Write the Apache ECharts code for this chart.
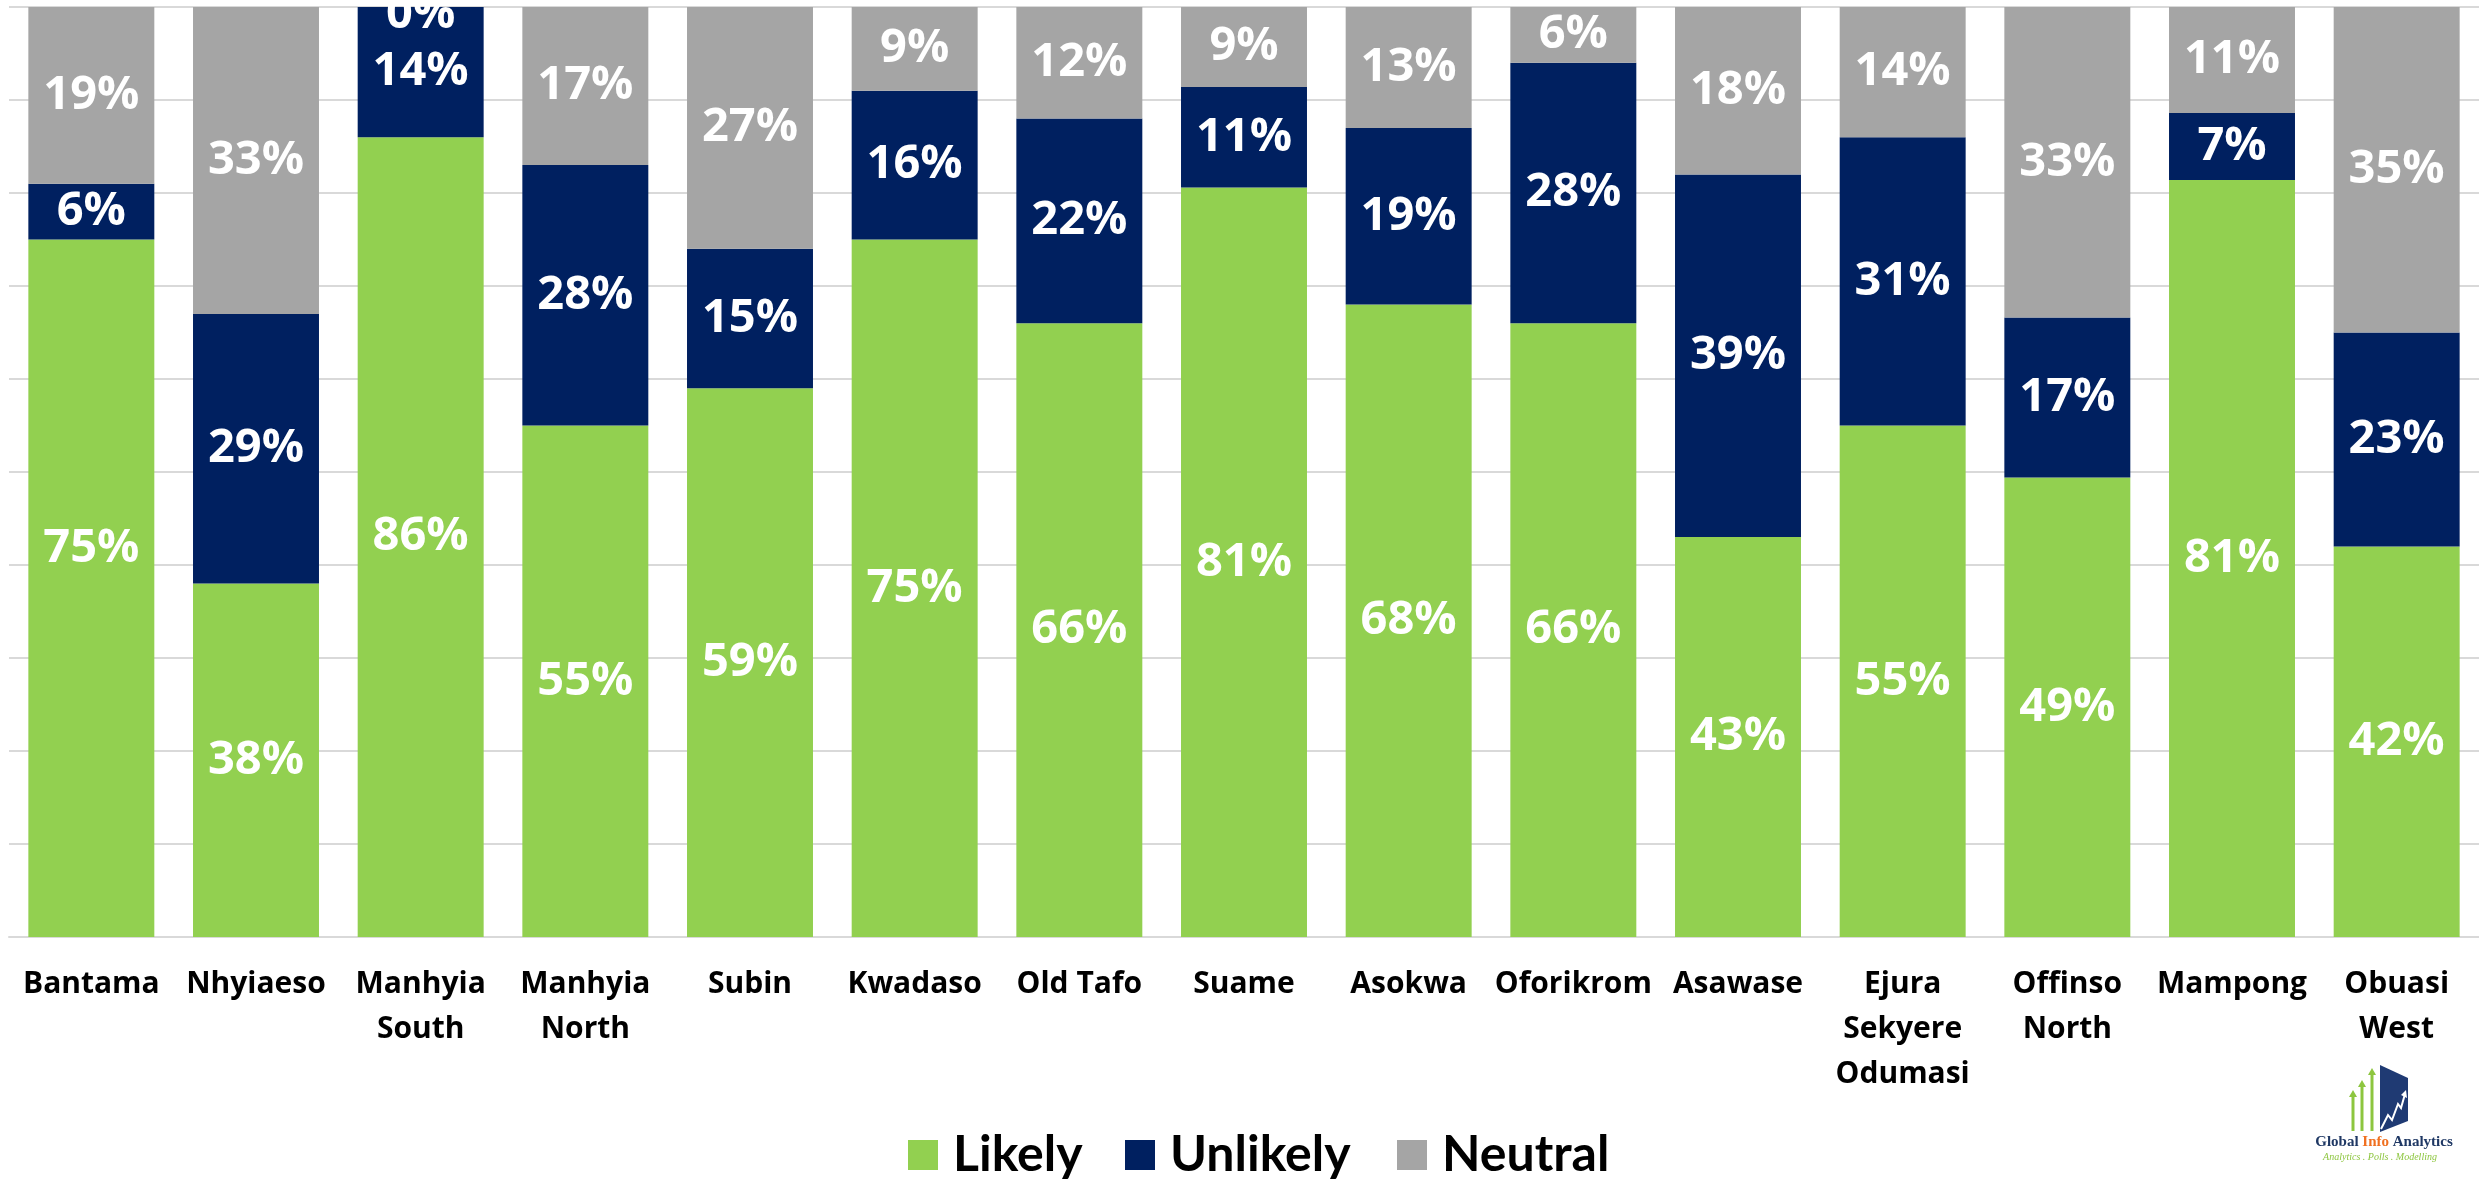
<!DOCTYPE html>
<html>
<head>
<meta charset="utf-8">
<script src="https://cdn.jsdelivr.net/npm/echarts@6/dist/echarts.min.js"></script>
<style>
  html, body { margin: 0; padding: 0; background: #fff; }
  #chart { width: 2479px; height: 1180px; }
</style>
</head>
<body>
<div id="chart"></div>
<script>
// constituencies and shares (%)
const categories = ["Bantama", "Nhyiaeso", "Manhyia\nSouth", "Manhyia\nNorth", "Subin", "Kwadaso", "Old Tafo",
  "Suame", "Asokwa", "Oforikrom", "Asawase", "Ejura\nSekyere\nOdumasi", "Offinso\nNorth", "Mampong", "Obuasi\nWest"];
const likely = [75, 38, 86, 55, 59, 75, 66, 80.6, 68, 66, 43, 55, 49.4, 81.4, 42];
const unlikely = [6, 29, 14, 28, 15, 16, 22, 10.8, 19, 28, 39, 31, 17.2, 7.2, 23];
const neutral = [19, 33, 0, 17, 27, 9, 12, 8.6, 13, 6, 18, 14, 33.4, 11.4, 35];
const seriesNames = ["Likely", "Unlikely", "Neutral"];

const colors = ["#92D050", "#002060", "#A5A5A5"];

const chart = echarts.init(document.getElementById("chart"));

function makeSeries(name, data, color, offsets) {
  return {
    name: name,
    type: "bar",
    stack: "total",
    barCategoryGap: "23.5%",
    // some labels were nudged in the original
    data: data.map((v, i) => offsets[i] ? { value: v, label: { offset: offsets[i] } } : v),
    itemStyle: { color: color },
    label: {
      show: true,
      position: "inside",
      formatter: p => Math.round(p.value) + "%",
      color: "#fff",
      fontFamily: "'Open Sans', sans-serif",
      fontWeight: "bold",
      fontSize: 47
    }
  };
}

// small green arrow for the logo
function arrow(x, top) {
  return [
    { type: "line", shape: { x1: x, y1: 1131, x2: x, y2: top + 6 }, style: { stroke: "#8DC63F", lineWidth: 3 } },
    { type: "polygon", shape: { points: [[x - 4, top + 7], [x, top], [x + 4, top + 7]] }, style: { fill: "#8DC63F" } }
  ];
}

function legendAt(name, left) {
  return {
    data: [name],
    left: left,
    top: 1125,
    itemWidth: 30,
    itemHeight: 30,
    itemGap: 0,
    icon: "rect",
    textStyle: {
      color: "#000",
      fontFamily: "Lato, sans-serif",
      fontWeight: "bold",
      fontSize: 50,
      lineHeight: 50,
      padding: [0, 0, 0, 10]
    }
  };
}

const option = {
  animation: false,
  grid: { left: 9, right: 0, top: 7, bottom: 243, containLabel: false },
  xAxis: {
    type: "category",
    data: categories,
    axisTick: { show: false },
    axisLine: { lineStyle: { color: "#D9D9D9", width: 2 } },
    axisLabel: {
      interval: 0,
      margin: 25,
      color: "#000",
      fontFamily: "'Open Sans', sans-serif",
      fontWeight: "bold",
      fontSize: 30,
      lineHeight: 45
    }
  },
  yAxis: {
    type: "value",
    min: 0,
    max: 100,
    interval: 10,
    axisLabel: { show: false },
    axisLine: { show: false },
    axisTick: { show: false },
    splitLine: { lineStyle: { color: "#D9D9D9", width: 2 } }
  },
  legend: [
    legendAt(seriesNames[0], 903),
    legendAt(seriesNames[1], 1120),
    legendAt(seriesNames[2], 1392)
  ],
  series: [
    makeSeries(seriesNames[0], likely, colors[0], { 0: [0, -40] }),
    makeSeries(seriesNames[1], unlikely, colors[1], {}),
    makeSeries(seriesNames[2], neutral, colors[2], { 2: [0, 8] })
  ],
  graphic: [].concat(
    arrow(2353, 1090),
    arrow(2362, 1080),
    arrow(2372, 1068),
    [
      { type: "polygon", shape: { points: [[2380, 1065], [2408, 1078], [2408, 1121], [2380, 1132]] }, style: { fill: "#1F3A73" } },
      { type: "polyline", shape: { points: [[2381, 1129], [2388, 1115], [2392, 1120], [2398, 1104], [2401, 1108], [2405, 1094]] },
        style: { stroke: "#fff", lineWidth: 2, fill: null } },
      { type: "polygon", shape: { points: [[2401, 1095], [2406, 1090], [2407, 1098]] }, style: { fill: "#fff" } },
      {
        type: "text", x: 2384, y: 1142,
        style: {
          text: "{a|Global }{b|Info}{a| Analytics}",
          align: "center", verticalAlign: "middle",
          rich: {
            a: { fontFamily: "'Liberation Serif', serif", fontWeight: "bold", fontSize: 15, fill: "#1F3864" },
            b: { fontFamily: "'Liberation Serif', serif", fontWeight: "bold", fontSize: 15, fill: "#F07020" }
          }
        }
      },
      {
        type: "text", x: 2380, y: 1157,
        style: {
          text: "Analytics . Polls . Modelling",
          align: "center", verticalAlign: "middle",
          fontFamily: "'Liberation Serif', serif", fontStyle: "italic", fontSize: 10, fill: "#8DC63F"
        }
      }
    ]
  )
};

chart.setOption(option);
</script>
</body>
</html>
